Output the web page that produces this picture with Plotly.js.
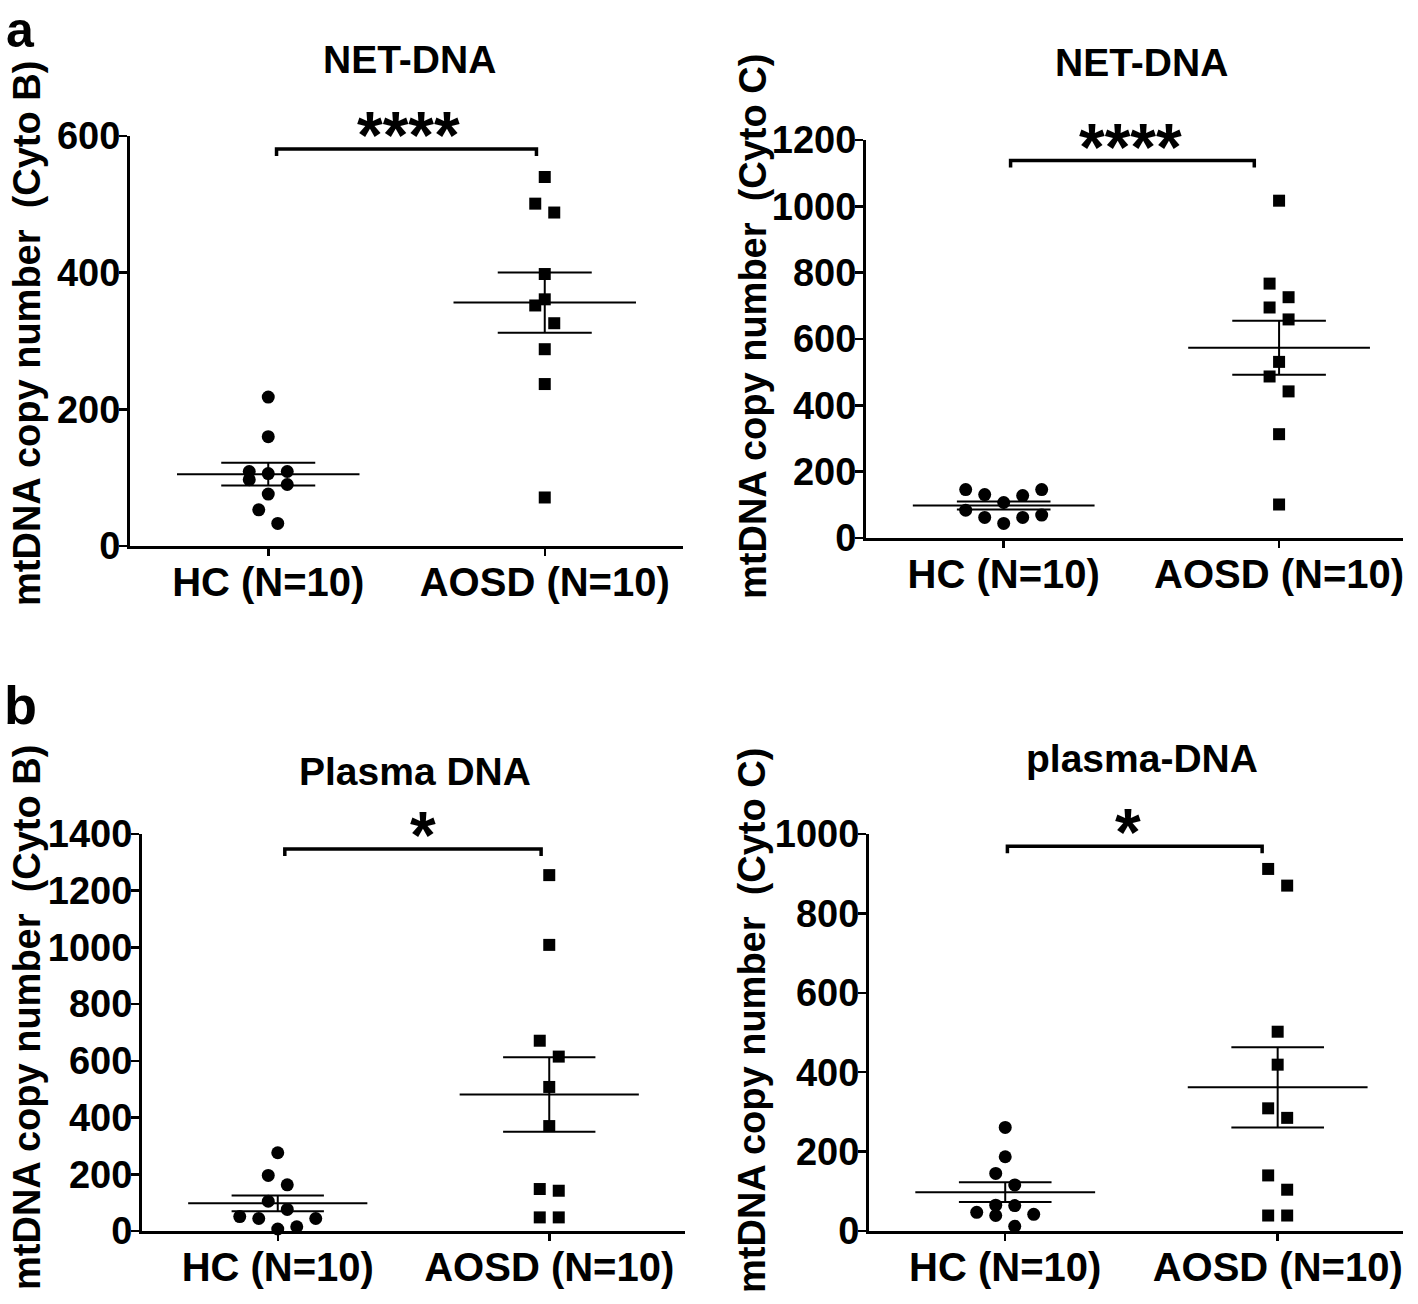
<!DOCTYPE html>
<html>
<head>
<meta charset="utf-8">
<script src="https://cdn.plot.ly/plotly-3.0.1.min.js"></script>
<style>
  body { margin: 0; background: #fff; }
  #plot { width: 1418px; height: 1304px; }
</style>
</head>
<body>
<div id="plot"></div>
<script>
// Group labels
let groups = ['HC (N=10)', 'AOSD (N=10)']

// a: NET-DNA, Cyto B
let netCytoB_HC = [218, 160, 109, 106, 109, 90, 97, 76, 53, 33]
let netCytoB_AOSD = [540, 501, 488, 398, 361, 352, 326, 288, 237, 71]
// a: NET-DNA, Cyto C
let netCytoC_HC = [146, 131, 128, 146, 107, 84, 62, 62, 69, 44]
let netCytoC_AOSD = [1017, 767, 726, 695, 659, 531, 487, 442, 313, 101]
// b: plasma DNA, Cyto B
let plasmaCytoB_HC = [276, 196, 163, 105, 76, 51, 44, 44, 7, 15]
let plasmaCytoB_AOSD = [1255, 1009, 671, 615, 508, 370, 148, 142, 48, 48]
// b: plasma DNA, Cyto C
let plasmaCytoC_HC = [261, 187, 145, 116, 65, 64, 47, 42, 39, 12]
let plasmaCytoC_AOSD = [912, 870, 502, 419, 309, 285, 140, 104, 39, 39]

// Panel titles, axis titles and significance labels
let panelTitles = ['NET-DNA', 'NET-DNA', 'Plasma DNA', 'plasma-DNA']
let yTitles = ['mtDNA copy number\u00a0 (Cyto B)', 'mtDNA copy number\u00a0 (Cyto C)',
               'mtDNA copy number\u00a0 (Cyto B)', 'mtDNA copy number\u00a0 (Cyto C)']
let yMax = [600, 1200, 1400, 1000]
let sigLabels = ['****', '****', '*', '*']
let sigLevel = [581, 1138, 1347, 969]

const W = 1418, H = 1304
const FONT = 'Liberation Sans, Arial, Helvetica, sans-serif'

// layout of each panel (pixel boxes from the figure)
let panels = [
  {hc: netCytoB_HC, aosd: netCytoB_AOSD, box: [130, 683, 136, 546], xmax: 1.5,
   sigX: [0.03, 0.97], starX: 0.506, titleXY: [409, 60], yTitleXY: [27, 334], dtick: 200},
  {hc: netCytoC_HC, aosd: netCytoC_AOSD, box: [866, 1403, 140, 538], xmax: 1.45,
   sigX: [0.025, 0.91], starX: 0.459, titleXY: [1141, 62], yTitleXY: [753, 326], dtick: 200},
  {hc: plasmaCytoB_HC, aosd: plasmaCytoB_AOSD, box: [142, 685, 834, 1231], xmax: 1.5,
   sigX: [0.026, 0.97], starX: 0.535, titleXY: [415, 771], yTitleXY: [27, 1018], dtick: 200},
  {hc: plasmaCytoC_HC, aosd: plasmaCytoC_AOSD, box: [869, 1403, 834, 1231], xmax: 1.46,
   sigX: [0.008, 0.943], starX: 0.449, titleXY: [1142, 758], yTitleXY: [752, 1020], dtick: 200}
]

function meanSem(v) {
  let n = v.length
  let m = v.reduce((a, b) => a + b, 0) / n
  let sd = Math.sqrt(v.reduce((a, b) => a + (b - m) ** 2, 0) / (n - 1))
  return [m, sd / Math.sqrt(n)]
}

// Prism-like scatter: group close values into rows, spread each row sideways
function swarm(vals, center, pxY, pxX) {
  let rowGap = 19 / pxY
  let step = 19 / pxX
  let order = vals.map((v, i) => i).sort((a, b) => vals[a] - vals[b])
  let rows = [], cur = null
  order.forEach(i => {
    if (!cur || vals[i] - vals[cur[0]] > rowGap) { cur = [i]; rows.push(cur) }
    else cur.push(i)
  })
  let xs = new Array(vals.length)
  rows.forEach(r => {
    let n = r.length, slots = []
    if (n % 2) {
      slots.push(0)
      for (let k = 1; slots.length < n; k++) { slots.push(k); if (slots.length < n) slots.push(-k) }
    } else {
      for (let k = 0.5; slots.length < n; k++) { slots.push(k); slots.push(-k) }
    }
    r.forEach((i, j) => xs[i] = center + slots[j] * step)
  })
  return xs
}

let traceData = []
let layout = {
  width: W, height: H,
  margin: {l: 0, r: 0, t: 0, b: 0},
  showlegend: false,
  paper_bgcolor: 'white', plot_bgcolor: 'white',
  annotations: []
}

panels.forEach((p, k) => {
  let n = k + 1
  let xid = n === 1 ? 'x' : 'x' + n
  let yid = n === 1 ? 'y' : 'y' + n
  let [x0, x1, y0, y1] = p.box
  let pxY = (y1 - y0) / yMax[k]
  let pxX = (x1 - x0) / (p.xmax + 0.5)

  layout[n === 1 ? 'xaxis' : 'xaxis' + n] = {
    domain: [x0 / W, x1 / W], range: [-0.5, p.xmax], anchor: yid,
    tickvals: [0, 1], ticktext: groups,
    ticks: 'outside', ticklen: 7, tickwidth: 2.5, tickcolor: 'black',
    ticklabelstandoff: -8,
    showline: true, linewidth: 3, linecolor: 'black',
    showgrid: false, zeroline: false, fixedrange: true,
    tickfont: {family: FONT, size: 40, weight: 'bold', color: 'black'}
  }
  layout[n === 1 ? 'yaxis' : 'yaxis' + n] = {
    domain: [1 - y1 / H, 1 - y0 / H], range: [0, yMax[k]], anchor: xid,
    tick0: 0, dtick: p.dtick,
    ticks: 'outside', ticklen: 8, tickwidth: 2.5, tickcolor: 'black',
    ticklabelstandoff: -9,
    showline: true, linewidth: 3, linecolor: 'black',
    showgrid: false, zeroline: false, fixedrange: true,
    tickfont: {family: FONT, size: 38, weight: 'bold', color: 'black'}
  }

  // HC circles and AOSD squares
  traceData.push({
    x: swarm(p.hc, 0, pxY, pxX), y: p.hc, xaxis: xid, yaxis: yid,
    type: 'scatter', mode: 'markers', cliponaxis: false,
    marker: {symbol: 'circle', size: 13, color: 'black'}
  })
  traceData.push({
    x: swarm(p.aosd, 1, pxY, pxX), y: p.aosd, xaxis: xid, yaxis: yid,
    type: 'scatter', mode: 'markers', cliponaxis: false,
    marker: {symbol: 'square', size: 12, color: 'black'}
  })

  // mean line and SEM bars
  ;[p.hc, p.aosd].forEach((v, c) => {
    let [m, s] = meanSem(v)
    traceData.push({
      x: [c - 0.33, c + 0.33, null, c - 0.17, c + 0.17, null, c - 0.17, c + 0.17, null, c, c],
      y: [m, m, null, m + s, m + s, null, m - s, m - s, null, m - s, m + s],
      xaxis: xid, yaxis: yid, type: 'scatter', mode: 'lines',
      line: {color: 'black', width: 2}
    })
  })

  // significance bracket
  let drop = 7 / pxY
  let sy = sigLevel[k]
  traceData.push({
    x: [p.sigX[0], p.sigX[0], p.sigX[1], p.sigX[1]],
    y: [sy - drop, sy, sy, sy - drop],
    xaxis: xid, yaxis: yid, type: 'scatter', mode: 'lines', cliponaxis: false,
    line: {color: 'black', width: 3.5}
  })
  layout.annotations.push({
    text: sigLabels[k], x: p.starX, y: sy, xref: xid, yref: yid,
    xanchor: 'center', yanchor: 'middle', yshift: 14, showarrow: false,
    font: {family: FONT, size: 66, weight: 'bold', color: 'black'}
  })

  // panel title
  layout.annotations.push({
    text: panelTitles[k], x: p.titleXY[0] / W, y: 1 - p.titleXY[1] / H,
    xref: 'paper', yref: 'paper', xanchor: 'center', yanchor: 'middle', showarrow: false,
    font: {family: FONT, size: 39, weight: 'bold', color: 'black'}
  })
  // y axis title
  layout.annotations.push({
    text: yTitles[k], x: p.yTitleXY[0] / W, y: 1 - p.yTitleXY[1] / H,
    xref: 'paper', yref: 'paper', xanchor: 'center', yanchor: 'middle', showarrow: false,
    textangle: -90,
    font: {family: FONT, size: 38, weight: 'bold', color: 'black'}
  })
})

// panel letters
layout.annotations.push({
  text: 'a', x: 0, y: 1, xref: 'paper', yref: 'paper', showarrow: false,
  xanchor: 'left', yanchor: 'top', xshift: 4, yshift: 0,
  font: {family: FONT, size: 50, weight: 'bold', color: 'black'}
})
layout.annotations.push({
  text: 'b', x: 20 / W, y: 1 - 705 / H, xref: 'paper', yref: 'paper', showarrow: false,
  xanchor: 'center', yanchor: 'middle', font: {family: FONT, size: 54, weight: 'bold', color: 'black'}
})

Plotly.newPlot('plot', traceData, layout, {staticPlot: true})
</script>
</body>
</html>
